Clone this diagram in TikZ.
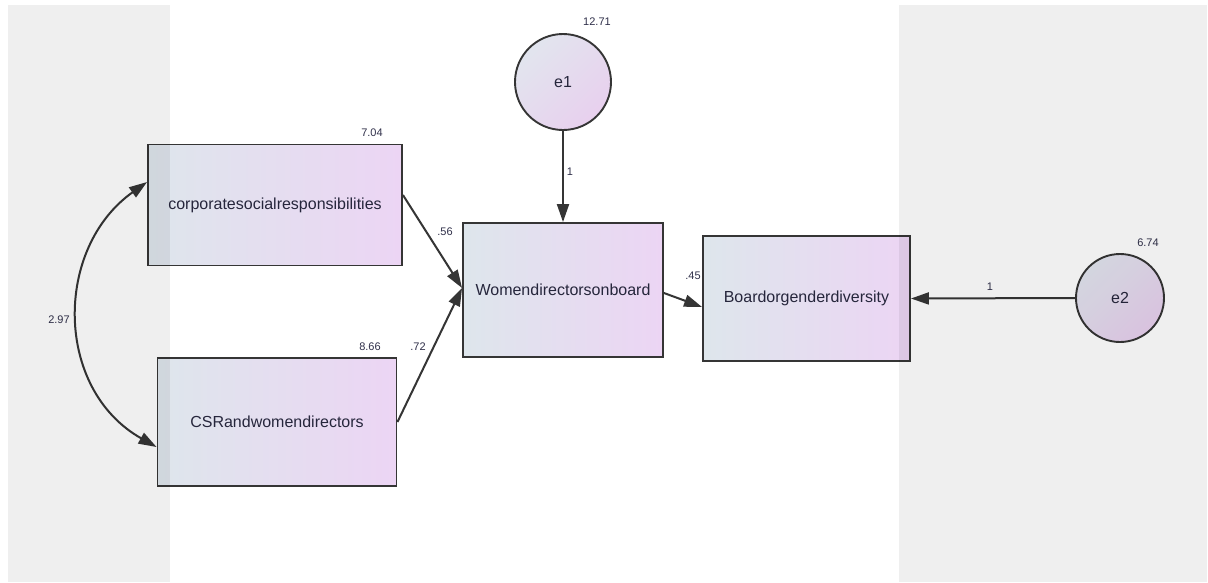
\documentclass[tikz,border=0pt]{standalone}
\usepackage{fontspec}
\setmainfont{Liberation Sans}
\usetikzlibrary{arrows.meta,calc}

\definecolor{panelgray}{HTML}{EFEFEF}
\definecolor{boxL}{HTML}{DEE6EC}
\definecolor{boxR}{HTML}{ECD5F4}
\definecolor{errL}{HTML}{E2E5EE}
\definecolor{errR}{HTML}{E8D0EE}
\definecolor{edge}{HTML}{353535}
\definecolor{ink}{HTML}{26263C}
\definecolor{numink}{HTML}{30304A}

\begin{document}
\begin{tikzpicture}[x=1pt,y=-1pt,
  obs/.style={rectangle, draw=edge, line width=1.9pt, left color=boxL, right color=boxR,
    inner sep=0pt, font=\fontsize{16}{18}\selectfont, text=ink},
  err/.style={circle, draw=edge, line width=1.9pt, left color=errL, right color=errR,
    shading angle=45, inner sep=0pt, font=\fontsize{16}{18}\selectfont, text=ink},
  reg/.style={draw=edge, line width=2pt, -{Triangle[length=18pt,width=12pt]}},
  cov/.style={draw=edge, line width=2pt, {Triangle[length=18pt,width=12pt]}-{Triangle[length=18pt,width=12pt]}},
  est/.style={font=\fontsize{11}{13}\selectfont, text=numink, inner sep=0pt}
]
\useasboundingbox (0,0) rectangle (1208,582);
\fill[white] (0,0) rectangle (1208,582);

% observed variables
\node[obs, minimum width=254pt, minimum height=121pt] (csr)  at (275,205)   {corporatesocialresponsibilities};
\node[obs, minimum width=239pt, minimum height=128pt] (csrw) at (277,422)   {CSRandwomendirectors};
\node[obs, minimum width=200pt, minimum height=134pt] (wdb)  at (563,290)   {Womendirectorsonboard};
\node[obs, minimum width=207pt, minimum height=125pt] (bgd)  at (806.5,298.5) {Boardorgenderdiversity};

% error terms
\node[err, minimum size=96pt] (e1) at (563,82)  {e1};
\node[err, minimum size=88pt] (e2) at (1120,298) {e2};

% regression paths
\coordinate (join) at ($(wdb.west)+(0,-2)$);
\draw[reg] ($(csr.east)+(0,-10)$) -- (join);
\draw[reg] (csrw.east) -- (join);
\draw[reg] (e1.south) -- (wdb.north);
\draw[reg] ($(wdb.east)+(0,3)$) -- ($(bgd.west)+(0,8.5)$);
\draw[reg] (e2.west) -- (bgd.east);

% covariance
\draw[cov] ($(csr.west)+(0,-23)$) .. controls (54,248) and (54,389) .. ($(csrw.west)+(0,25)$);

% estimates
\node[est] (v1)  at (372,133)  {7.04};
\node[est] (v2)  at (370,347)  {8.66};
\node[est] (ve1) at (597,22)   {12.71};
\node[est] (ve2) at (1148,243) {6.74};
\node[est] (c12) at (59,320)   {2.97};
\node[est] (w1)  at (445,232)  {.56};
\node[est] (w2)  at (418,347)  {.72};
\node[est] (w3)  at (693,276)  {.45};
\node[est] (f1)  at (570,172)  {1};
\node[est] (f2)  at (990,287)  {1};

% side panels, multiplied over the drawing
\begin{scope}[blend mode=multiply]
  \fill[panelgray] (8,5) rectangle (170,582);
  \fill[panelgray] (899,5) rectangle (1207,582);
\end{scope}
\end{tikzpicture}
\end{document}
